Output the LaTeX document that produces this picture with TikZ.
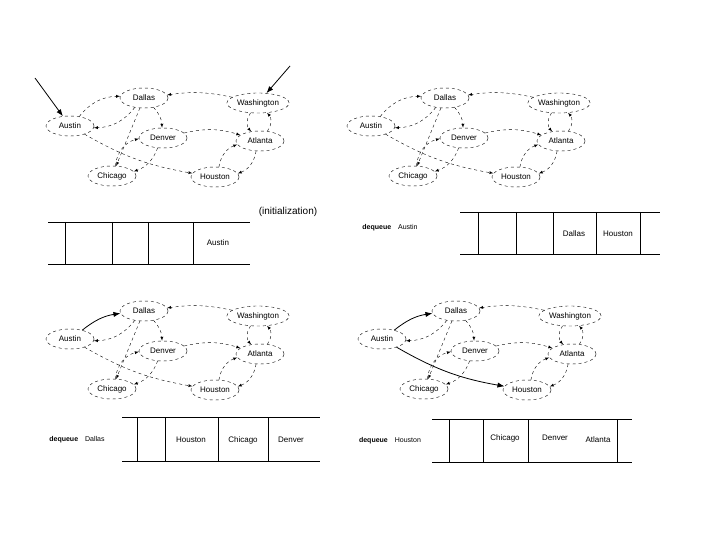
\documentclass[tikz,border=0pt]{standalone}
\usepackage{fontspec}
\setmainfont{Liberation Sans}
\usetikzlibrary{shapes.geometric, arrows.meta}
\newcommand{\citygraph}[2]{%
  \begin{scope}[shift={(#1)}]
    \node (Da#2) at (144,98)  [city] {Dallas};
    \node (Wa#2) at (258,103) [city] {Washington};
    \node (Au#2) at (70,126)  [city] {Austin};
    \node (De#2) at (163,138) [city] {Denver};
    \node (At#2) at (260,141) [city] {Atlanta};
    \node (Ch#2) at (112,176) [city] {Chicago};
    \node (Ho#2) at (215,177) [city] {Houston};

    \draw[edge] (Wa#2) to[bend right=10] (Da#2);
    \draw[edge] (Da#2) to[bend left=25] (Au#2);
    \draw[edge] (Da#2) to[bend left=20] (De#2);
    \draw[edge] (Da#2) -- (Ch#2);
    \draw[edge] (Wa#2) to[bend right=40] (At#2);
    \draw[edge] (At#2) to[bend right=40] (Wa#2);
    \draw[edge] (De#2) to[bend left=15] (At#2);
    \draw[edge] (De#2) to[bend left=25] (Ch#2);
    \draw[edge] (Ch#2) to[bend left=35] (De#2);
    \draw[edge] (Ho#2) to[bend left=30] (At#2);
    \draw[edge] (At#2) to[bend left=30] (Ho#2);
  \end{scope}}
\begin{document}
\begin{tikzpicture}[x=1pt, y=-1pt,
    city/.style = {ellipse, draw, dashed, minimum width=48pt, minimum height=20pt, inner sep=1pt, font=\footnotesize},
    edge/.style = {->, dashed, >=latex},
    bold/.style = {->, thick, >={Latex[length=7pt]}}
    ]
    \useasboundingbox (0,0) rectangle (720,540);

    % four copies of the city graph
    \citygraph{0,0}{a}
    \citygraph{301,0}{b}
    \citygraph{0,213}{c}
    \citygraph{312,213}{d}

    % graph a: starting arrows
    \coordinate (inA) at (35,78);
    \coordinate (inW) at (290,66);
    \draw[bold] (inA) -- (Aua);
    \draw[bold] (inW) -- (Waa);
    \draw[edge] (Aua) to[bend left=25] (Daa);
    \draw[edge] (Aua) to[bend right=10] (Hoa);
    % graph b
    \draw[edge] (Aub) to[bend left=25] (Dab);
    \draw[edge] (Aub) to[bend right=10] (Hob);
    % graph c
    \draw[bold] (Auc) to[bend left=15] (Dac);
    \draw[edge] (Auc) to[bend right=10] (Hoc);
    % graph d
    \draw[bold] (Aud) to[bend left=15] (Dad);
    \draw[bold] (Aud) to[bend right=10] (Hod);

    % queues
    \node (initq) at (288,212) {(initialization)};
    \draw (48,222) -- (250,222) (48,264) -- (250,264);
    \foreach \x in {65,112,148,193} \draw (\x,222) -- (\x,264);
    \node (qa1) at (218,243) [font=\footnotesize] {Austin};

    \node (deqb) at (390,228) [font=\scriptsize] {\textbf{dequeue}\quad Austin};
    \draw (460,212) -- (660,212) (460,254) -- (660,254);
    \foreach \x in {478,516,553,596,640} \draw (\x,212) -- (\x,254);
    \node (qb1) at (574,234) [font=\footnotesize] {Dallas};
    \node (qb2) at (618,234) [font=\footnotesize] {Houston};

    \node (deqc) at (77,440) [font=\scriptsize] {\textbf{dequeue}\quad Dallas};
    \draw (122,417) -- (320,417) (122,461) -- (320,461);
    \foreach \x in {137,165,218,268} \draw (\x,417) -- (\x,461);
    \node (qc1) at (191,440) [font=\footnotesize] {Houston};
    \node (qc2) at (243,440) [font=\footnotesize] {Chicago};
    \node (qc3) at (291,440) [font=\footnotesize] {Denver};

    \node (deqd) at (390,441) [font=\scriptsize] {\textbf{dequeue}\quad Houston};
    \draw (432,419) -- (632,419) (432,462) -- (632,462);
    \foreach \x in {449,483,528,617} \draw (\x,419) -- (\x,462);
    \node (qd1) at (505,438) [font=\footnotesize] {Chicago};
    \node (qd2) at (555,438) [font=\footnotesize] {Denver};
    \node (qd3) at (598,440) [font=\footnotesize] {Atlanta};
\end{tikzpicture}
\end{document}
